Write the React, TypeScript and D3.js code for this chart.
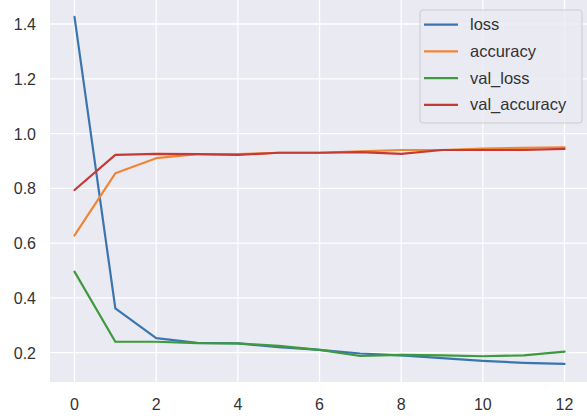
import React from "react";
import * as d3 from "d3";

const epochs = [0, 1, 2, 3, 4, 5, 6, 7, 8, 9, 10, 11, 12];
const loss = [1.426, 0.362, 0.253, 0.236, 0.234, 0.22, 0.21, 0.197, 0.19, 0.18, 0.17, 0.163, 0.159];
const accuracy = [0.628, 0.855, 0.91, 0.925, 0.925, 0.93, 0.93, 0.935, 0.94, 0.94, 0.945, 0.948, 0.95];
const valLoss = [0.496, 0.24, 0.24, 0.235, 0.234, 0.225, 0.21, 0.188, 0.192, 0.19, 0.187, 0.19, 0.204];
const valAccuracy = [0.794, 0.922, 0.926, 0.925, 0.922, 0.93, 0.93, 0.932, 0.926, 0.94, 0.94, 0.94, 0.944];
const seriesNames = ["loss", "accuracy", "val_loss", "val_accuracy"];
const seriesColors = ["#3b75af", "#ef8636", "#3d9a3d", "#c53a32"];
const xTicks = [0, 2, 4, 6, 8, 10, 12];
const yTicks = [0.2, 0.4, 0.6, 0.8, 1.0, 1.2, 1.4];

const W = 587;
const H = 416;
const left = 50;
const right = 589;
const top = 0;
const bottom = 382;

export default function App() {
  const x = d3.scaleLinear().domain([-0.6, 12.6]).range([left, right]);
  const y = d3.scaleLinear().domain([0.2, 1.4]).range([352.7, 24]);
  const all = [loss, accuracy, valLoss, valAccuracy];
  const line = d3
    .line<number>()
    .x((_, i) => x(epochs[i]))
    .y((d) => y(d));
  const font = "'Liberation Sans', Arial, sans-serif";
  return (
    <svg
      width={W}
      height={H}
      style={{ position: "absolute", left: 0, top: 0, background: "#fff" }}
    >
      <defs>
        <clipPath id="plot">
          <rect x={left} y={top} width={right - left} height={bottom - top} />
        </clipPath>
      </defs>
      <rect x={left} y={top} width={right - left} height={bottom - top} fill="#eaeaf2" />
      {xTicks.map((t) => (
        <line key={"gx" + t} x1={x(t)} x2={x(t)} y1={top} y2={bottom} stroke="#fff" strokeWidth={1.3} />
      ))}
      {yTicks.map((t) => (
        <line key={"gy" + t} x1={left} x2={right} y1={y(t)} y2={y(t)} stroke="#fff" strokeWidth={1.3} />
      ))}
      <g clipPath="url(#plot)">
        {all.map((s, i) => (
          <path
            key={seriesNames[i]}
            d={line(s) || ""}
            fill="none"
            stroke={seriesColors[i]}
            strokeWidth={2.2}
            strokeLinejoin="round"
            strokeLinecap="round"
          />
        ))}
      </g>
      {xTicks.map((t) => (
        <text
          key={"tx" + t}
          x={x(t)}
          y={410}
          textAnchor="middle"
          fontFamily={font}
          fontSize={16}
          fill="#333"
        >
          {t}
        </text>
      ))}
      {yTicks.map((t) => (
        <text
          key={"ty" + t}
          x={36}
          y={y(t) + 6}
          textAnchor="end"
          fontFamily={font}
          fontSize={16}
          fill="#333"
        >
          {t.toFixed(1)}
        </text>
      ))}
      <g>
        <rect
          x={420}
          y={10}
          width={162}
          height={113}
          rx={3}
          fill="#eaeaf2"
          fillOpacity={0.8}
          stroke="#cccccc"
          strokeWidth={1}
        />
        {seriesNames.map((n, i) => {
          const yy = 24.7 + i * 26.7;
          return (
            <g key={"lg" + n}>
              <line x1={424} x2={458} y1={yy} y2={yy} stroke={seriesColors[i]} strokeWidth={2.2} />
              <text x={470} y={yy + 5.5} fontFamily={font} fontSize={16.5} fill="#333">
                {n}
              </text>
            </g>
          );
        })}
      </g>
    </svg>
  );
}
